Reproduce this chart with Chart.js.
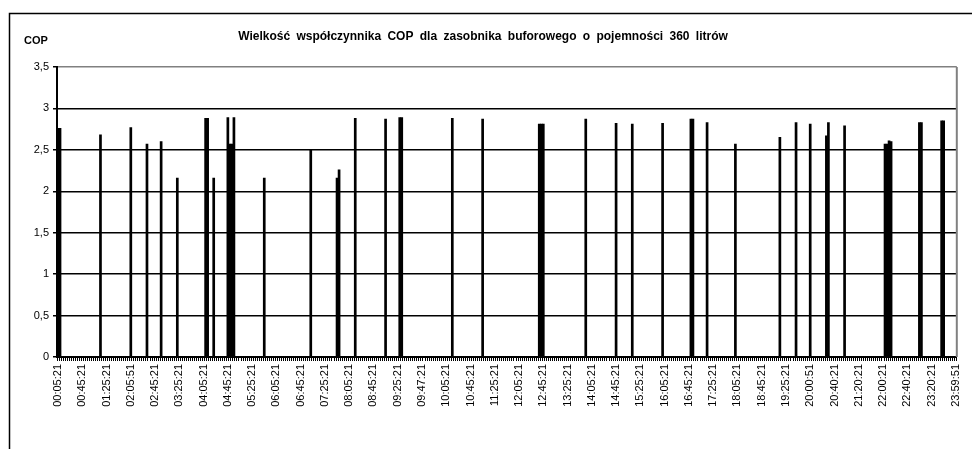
<!DOCTYPE html>
<html>
<head>
<meta charset="utf-8">
<script src="https://cdn.jsdelivr.net/npm/chart.js@4/dist/chart.umd.min.js"></script>
<style>
  html, body { margin: 0; padding: 0; background: #fff; }
  #wrap { width: 972px; height: 449px; }
</style>
</head>
<body>
<div id="wrap"><canvas id="chart" width="972" height="449"></canvas></div>
<script>
// labels shown under the axis, one every 12 samples
const tickLabels = ['00:05:21', '00:45:21', '01:25:21', '02:05:51', '02:45:21', '03:25:21',
  '04:05:21', '04:45:21', '05:25:21', '06:05:21', '06:45:21', '07:25:21', '08:05:21',
  '08:45:21', '09:25:21', '09:47:21', '10:05:21', '10:45:21', '11:25:21', '12:05:21',
  '12:45:21', '13:25:21', '14:05:21', '14:45:21', '15:25:21', '16:05:21', '16:45:21',
  '17:25:21', '18:05:21', '18:45:21', '19:25:21', '20:00:51', '20:40:21', '21:20:21',
  '22:00:21', '22:40:21', '23:20:21', '23:59:51'];
const labelStep = 12;

// samples where the pump was running (sample number) and the COP read there
const barSlots = [0, 1, 21, 36, 44, 51, 59, 73, 74, 77, 84, 85, 86, 87, 102, 125, 138, 139,
  147, 162, 169, 170, 195, 210, 238, 239, 240, 261, 276, 284, 299, 313, 314, 321, 335,
  357, 365, 372, 380, 381, 389, 409, 410, 411, 412, 426, 427, 437, 438];
const copValues = [2.76, 2.76, 2.68, 2.77, 2.57, 2.60, 2.16, 2.88, 2.88, 2.16, 2.89, 2.57, 2.57, 2.89, 2.16, 2.50, 2.16, 2.26,
  2.88, 2.87, 2.89, 2.89, 2.88, 2.87, 2.81, 2.81, 2.81, 2.87, 2.82, 2.81, 2.82, 2.87, 2.87, 2.83, 2.57,
  2.65, 2.83, 2.81, 2.67, 2.83, 2.79, 2.57, 2.57, 2.61, 2.60, 2.83, 2.83, 2.85, 2.85];

const yTicks = [0, 0.5, 1, 1.5, 2, 2.5, 3, 3.5];

const titleText = 'Wielkość współczynnika COP dla zasobnika buforowego o pojemności 360 litrów';
const fontFamily = '"Liberation Sans", Arial, sans-serif';

// build the category list and the full series (zero where nothing ran)
var categories = [];
for (var k = 0; k < tickLabels.length; k++) {
  categories.push(tickLabels[k]);
  if (k < tickLabels.length - 1) {
    for (var j = 1; j < labelStep; j++) categories.push('');
  }
}
var series = categories.map(function () { return 0; });
for (var i = 0; i < barSlots.length; i++) {
  series[barSlots[i]] = copValues[i];
}

var framePlugin = {
  id: 'frame',
  beforeDraw: function (chart) {
    var c = chart.ctx;
    c.save();
    c.fillStyle = '#fff';
    c.fillRect(0, 0, chart.width, chart.height);
    c.strokeStyle = '#000';
    c.lineWidth = 1.5;
    c.strokeRect(9.5, 13.5, chart.width + 10, chart.height + 10);
    c.restore();
    // excel spreads the words of the title a bit (only the title has spaces)
    c.wordSpacing = '3px';
  },
  afterDraw: function (chart) {
    var c = chart.ctx;
    var a = chart.chartArea;
    c.save();
    c.strokeStyle = '#808080';
    c.lineWidth = 2;
    c.beginPath();
    c.moveTo(a.right, a.top);
    c.lineTo(a.right, a.bottom);
    c.stroke();
    c.fillStyle = '#000';
    c.font = 'bold 11px ' + fontFamily;
    c.textBaseline = 'middle';
    c.fillText('COP', 24, 41);
    c.restore();
  }
};

new Chart(document.getElementById('chart'), {
  type: 'bar',
  data: {
    labels: categories,
    datasets: [{
      label: 'COP',
      data: series,
      backgroundColor: '#000',
      borderWidth: 0,
      barPercentage: 1,
      categoryPercentage: 1
    }]
  },
  options: {
    responsive: false,
    animation: false,
    layout: { padding: { top: 0, left: 0, right: 6, bottom: 0 }, autoPadding: false },
    plugins: {
      legend: { display: false },
      tooltip: { enabled: false },
      title: {
        display: true,
        text: titleText,
        color: '#000',
        font: { family: fontFamily, size: 12, weight: 'bold', lineHeight: 1 },
        padding: { top: 31, bottom: 24 }
      }
    },
    scales: {
      x: {
        grid: { drawOnChartArea: false, drawTicks: true, tickLength: 4, color: '#000', lineWidth: 1 },
        border: { color: '#000', width: 2 },
        ticks: {
          autoSkip: false,
          maxRotation: 90,
          minRotation: 90,
          padding: 3,
          color: '#000',
          font: { family: fontFamily, size: 11 }
        },
        afterFit: function (scale) { scale.height = 92; }
      },
      y: {
        min: 0,
        max: 3.5,
        afterBuildTicks: function (scale) {
          scale.ticks = yTicks.map(function (v) { return { value: v }; });
        },
        grid: {
          color: function (ctx) { return ctx.tick && ctx.tick.value === 3.5 ? '#808080' : '#000'; },
          lineWidth: 1.5,
          tickLength: 4,
          tickColor: '#000'
        },
        border: { color: '#000', width: 2 },
        ticks: {
          color: '#000',
          padding: 4,
          font: { family: fontFamily, size: 11 },
          callback: function (v) { return String(v).replace('.', ','); }
        },
        afterFit: function (scale) { scale.width = 57; }
      }
    }
  },
  plugins: [framePlugin]
});
</script>
</body>
</html>
